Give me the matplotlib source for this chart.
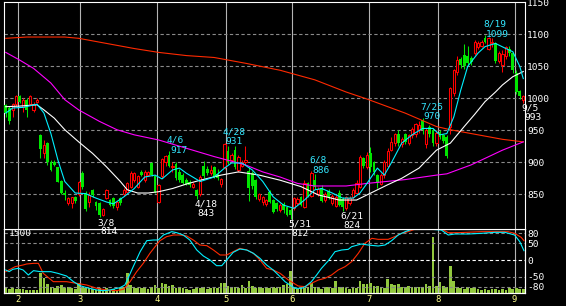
import numpy as np
import pandas as pd
import matplotlib
matplotlib.use("Agg")
import matplotlib.pyplot as plt

# ---------------- data ----------------
holidays = ["2022-02-11", "2022-02-23", "2022-03-21", "2022-04-29", "2022-05-03",
            "2022-05-04", "2022-05-05", "2022-07-18", "2022-08-11"]
dates = pd.bdate_range("2022-01-26", "2022-09-05", freq="C", holidays=holidays)

opens = [990, 985, 982, 992, 1003, 987, 998, 992, 982, 995,
         942, 914, 930, 901, 901, 892, 871, 852, 836, 837,
         846, 850, 884, 852, 838, 857, 838, 836, 818, 844,
         841, 844, 830, 844, 850, 854, 862, 872, 862, 885,
         872, 880, 899, 878, 838, 878, 900, 912, 892, 898,
         885, 880, 872, 870, 862, 857, 850, 895, 890, 884,
         893, 882, 866, 893, 918, 903, 919, 888, 895, 900,
         886, 884, 872, 843, 838, 835, 854, 841, 836, 826,
         835, 830, 826, 828, 837, 845, 830, 868, 848, 872,
         850, 860, 841, 855, 836, 832, 852, 842, 828, 836,
         846, 852, 862, 906, 893, 914, 900, 880, 866, 880,
         895, 920, 930, 945, 928, 944, 930, 942, 944, 950,
         966, 928, 955, 950, 930, 948, 942, 940, 956, 1008,
         1042, 1062, 1068, 1066, 1063, 1071, 1080, 1082, 1095, 1078,
         1087, 1086, 1058, 1052, 1066, 1078, 1071, 1040, 1011, 997]
highs = [992, 988, 993, 1005, 1006, 1000, 1001, 1006, 994, 1000,
         944, 935, 932, 903, 903, 893, 872, 856, 846, 846,
         848, 871, 886, 855, 853, 859, 840, 838, 829, 859,
         843, 846, 840, 846, 860, 869, 886, 885, 880, 888,
         888, 887, 901, 880, 866, 907, 912, 917, 900, 900,
         890, 884, 876, 872, 870, 859, 880, 902, 894, 896,
         895, 890, 876, 931, 925, 915, 925, 912, 903, 926,
         893, 886, 874, 852, 847, 843, 856, 843, 838, 836,
         838, 832, 828, 846, 846, 847, 872, 870, 886, 882,
         862, 864, 853, 858, 850, 849, 856, 845, 848, 848,
         860, 872, 911, 909, 916, 924, 902, 882, 884, 904,
         922, 940, 946, 950, 940, 946, 945, 955, 962, 964,
         970, 954, 958, 954, 950, 950, 944, 942, 1018, 1046,
         1066, 1065, 1085, 1082, 1066, 1091, 1090, 1092, 1099, 1096,
         1094, 1088, 1074, 1075, 1082, 1082, 1073, 1044, 1013, 1005]
lows = [971, 960, 971, 988, 993, 979, 971, 990, 979, 993,
        906, 906, 896, 886, 894, 869, 850, 841, 833, 828,
        836, 848, 858, 824, 830, 845, 826, 814, 816, 842,
        832, 828, 826, 834, 848, 852, 860, 870, 860, 878,
        870, 878, 878, 852, 836, 876, 895, 893, 885, 873,
        870, 866, 864, 862, 860, 843, 848, 876, 880, 880,
        875, 872, 862, 890, 898, 900, 890, 885, 892, 896,
        840, 858, 843, 840, 833, 832, 836, 821, 824, 823,
        820, 816, 812, 826, 834, 831, 828, 845, 846, 858,
        848, 838, 838, 842, 833, 830, 831, 824, 826, 834,
        843, 850, 860, 891, 890, 885, 880, 860, 864, 876,
        892, 918, 926, 926, 924, 928, 927, 938, 940, 946,
        945, 922, 940, 925, 926, 936, 930, 906, 945, 1004,
        1036, 1048, 1046, 1052, 1052, 1068, 1078, 1080, 1086, 1075,
        1080, 1055, 1055, 1042, 1062, 1066, 1040, 1007, 999, 993]
closes = [977, 964, 992, 1003, 995, 998, 982, 1003, 992, 998,
          921, 927, 901, 888, 896, 870, 852, 849, 844, 845,
          840, 869, 862, 827, 849, 849, 831, 817, 827, 857,
          833, 831, 838, 836, 857, 867, 883, 883, 878, 880,
          885, 885, 880, 854, 864, 905, 910, 895, 894, 875,
          872, 868, 866, 864, 866, 848, 877, 878, 884, 888,
          877, 876, 874, 928, 901, 912, 893, 909, 900, 903,
          860, 863, 846, 850, 845, 841, 838, 823, 827, 834,
          826, 818, 818, 844, 843, 834, 868, 848, 884, 862,
          858, 840, 850, 846, 848, 846, 834, 830, 845, 844,
          856, 868, 908, 894, 912, 892, 885, 868, 880, 900,
          918, 932, 944, 930, 937, 932, 942, 952, 960, 958,
          950, 950, 944, 930, 946, 940, 934, 910, 1016, 1044,
          1060, 1052, 1050, 1056, 1057, 1089, 1086, 1088, 1089, 1094,
          1089, 1058, 1071, 1070, 1080, 1071, 1044, 1010, 1003, 1003]
volume = [134, 100, 117, 100, 100, 100, 84, 75, 75, 84,
          494, 368, 226, 159, 134, 184, 201, 117, 159, 117,
          100, 243, 159, 117, 134, 100, 75, 117, 75, 117,
          75, 92, 75, 117, 159, 511, 201, 117, 117, 117,
          159, 100, 159, 201, 117, 243, 218, 175, 201, 117,
          159, 117, 100, 75, 100, 134, 117, 159, 100, 134,
          117, 134, 243, 243, 184, 134, 159, 134, 201, 117,
          301, 184, 134, 159, 134, 134, 117, 159, 117, 159,
          201, 218, 561, 159, 100, 117, 117, 159, 243, 159,
          117, 100, 159, 159, 117, 301, 159, 159, 117, 100,
          159, 117, 301, 226, 218, 243, 184, 184, 159, 117,
          352, 226, 201, 218, 159, 159, 184, 159, 159, 159,
          159, 218, 184, 1415, 184, 285, 184, 159, 678, 301,
          159, 117, 100, 159, 117, 117, 100, 75, 100, 75,
          92, 100, 75, 100, 75, 117, 100, 117, 100, 92]

# moving averages (day index, price)
ma_short_x = [0, 2, 5, 9, 11, 13, 15, 17, 20, 23, 26, 29, 31, 34, 37, 40, 43, 45, 48, 50,
              52, 56, 60, 63, 65, 68, 71, 74, 77, 80, 83, 86, 89, 91, 94, 97, 100, 102, 104,
              107, 109, 111, 114, 117, 120, 123, 125, 127, 129, 131, 133, 136, 138, 141, 144,
              146, 148, 149]
ma_short_y = [977, 985, 986, 991, 977, 945, 904, 870, 852, 851, 844, 838, 835, 846, 859, 877,
              880, 874, 888, 891, 883, 870, 877, 891, 899, 899, 888, 870, 846, 833, 828, 841,
              857, 859, 852, 844, 844, 852, 867, 891, 880, 899, 930, 943, 953, 953, 943, 945,
              971, 1013, 1050, 1071, 1081, 1086, 1078, 1073, 1050, 1031]
ma_mid_x = [0, 4, 9, 11, 14, 17, 21, 25, 29, 33, 35, 38, 41, 44, 48, 52, 56, 62, 67, 73,
            79, 85, 90, 96, 101, 104, 110, 114, 119, 124, 128, 132, 135, 138, 141, 143,
            146, 149]
ma_mid_y = [987, 988, 990, 982, 969, 951, 932, 914, 893, 870, 857, 852, 852, 854, 859, 866,
            872, 880, 885, 880, 872, 862, 849, 841, 841, 849, 865, 875, 891, 919, 930, 956,
            975, 995, 1010, 1021, 1034, 1042]
ma_long_x = [0, 4, 8, 13, 17, 21, 27, 32, 37, 44, 52, 60, 69, 74, 79, 84, 89, 98, 104,
             115, 124, 127, 134, 143, 149]
ma_long_y = [1072, 1060, 1047, 1024, 998, 982, 964, 951, 943, 935, 922, 909, 896, 885, 877,
             867, 863, 863, 867, 873, 880, 882, 896, 919, 932]
ma_xlong_x = [0, 6, 17, 21, 27, 37, 44, 52, 60, 69, 79, 89, 98, 104, 115, 124, 128, 134,
              143, 149]
ma_xlong_y = [1094, 1096, 1096, 1094, 1088, 1078, 1072, 1067, 1064, 1055, 1044, 1029, 1010,
              999, 977, 956, 951, 945, 936, 932]

# oscillators (lower panel)
osc_fast_x = [0, 1, 2, 3.6, 5, 6.5, 8, 10, 13, 15, 17.5, 19.5, 21.4, 23.3, 26.2, 28, 30,
              32.9, 34.3, 35.2, 36.7, 38.7, 40.6, 42.5, 43.9, 45.4, 47.8, 49.2, 51.1, 53,
              55, 56.9, 58.8, 60.7, 62.2, 63.6, 65.5, 67.4, 69.4, 71.3, 73.2, 75.1, 77, 79,
              80.4, 81.8, 83.3, 85.2, 86.2, 88, 89.5, 90.9, 92.9, 94.8, 96.7, 98.6, 99.6,
              102.4, 104.3, 107.2, 109.2, 111.1, 113, 115, 116.8, 119.7, 122.6, 125.4,
              127.4, 129.3, 133.1, 137, 140.8, 143.7, 146.5, 148, 149.2]
osc_fast_y = [-30, -35, -28, -25, -30, -45, -32, -35, -35, -40, -48, -65, -77, -83, -90,
              -92, -90, -83, -75, -55, -20, 25, 58, 60, 60, 75, 85, 82, 75, 60, 30, 12, 0,
              -17, -17, 0, 23, 33, 30, 20, 5, -15, -30, -50, -65, -75, -85, -85, -80, -65,
              -45, -25, -2, 25, 30, 32, 40, 48, 45, 42, 45, 58, 75, 85, 92, 92, 92, 90, 75,
              78, 78, 80, 83, 83, 75, 55, 28]
osc_slow_x = [0, 2.7, 5, 6, 8, 9.4, 10.8, 13.7, 17.5, 20.4, 23.3, 26.2, 29.1, 31.9, 33.9,
              35.8, 37.7, 39.6, 41.5, 43, 44.4, 46.3, 48.3, 50.2, 52.1, 54, 55.9, 57.9,
              59.8, 61.7, 63.6, 65.5, 67.4, 69.4, 71.3, 73.2, 75.1, 77, 79, 81.4, 84.2,
              86.2, 88, 90, 91.9, 93.8, 95.7, 97.7, 99.6, 101.5, 103.4, 105.4, 107.2,
              110.1, 112, 113.9, 115.8, 117.7, 119.7, 122.6, 125.4, 127.4, 130.2, 137,
              144.6, 146.5, 148.4, 149.2]
osc_slow_y = [-35, -20, -15, -12, -10, -10, -40, -65, -65, -70, -75, -85, -90, -92, -88,
              -65, -35, -10, 20, 40, 58, 70, 75, 75, 72, 60, 45, 43, 30, 15, 15, 25, 35,
              30, 20, 0, -25, -30, -40, -60, -78, -80, -70, -60, -55, -45, -30, -20, -5,
              20, 50, 65, 62, 62, 70, 80, 85, 92, 93, 93, 93, 82, 82, 85, 85, 80, 68, 58]

high_marks = [("2022-04-06", 917), ("2022-04-28", 931), ("2022-06-08", 886),
              ("2022-07-25", 970), ("2022-08-19", 1099)]
low_marks = [("2022-03-08", 814), ("2022-04-18", 843), ("2022-05-31", 812),
             ("2022-06-21", 824), ("2022-09-05", 993)]

price_ticks = [850, 900, 950, 1000, 1050, 1100, 1150]
price_grid = [850, 900, 950, 1000, 1050, 1100]
osc_ticks = [80, 50, 0, -50, -80]
volume_label = "1500"

# ---------------- style ----------------
plt.rcParams["font.family"] = ["DejaVu Sans Mono"]
FS = 6.8
RED = "#ff0000"
GREEN = "#00e600"
CYAN = "#00f0ff"
TXT_CYAN = "#33e6ff"
MAGENTA = "#ff00ff"
ORANGE_RED = "#ff2a00"
GRID = "#8a8a8a"
VLINE = "#b4b4b4"
VOL = "#92c83e"
MONTH_COL = "#ffff8c"

W, H = 566, 306
fig = plt.figure(figsize=(W / 100, H / 100), dpi=100, facecolor="black")
ax = fig.add_axes([4 / W, 77 / H, 521 / W, 227 / H], facecolor="black")
axv = fig.add_axes([4 / W, 13 / H, 521 / W, 64 / H], facecolor="black")
axo = axv.twinx()
ax.set_zorder(3)

n = len(dates)
x = np.arange(n)
o, h, l, c = (np.array(a, dtype=float) for a in (opens, highs, lows, closes))
up = c >= o
dn = ~up

for a in (ax, axv):
    a.set_xlim(-0.5, n - 0.5)
axo.set_xlim(-0.5, n - 0.5)
ax.set_ylim(795.7, 1150.8)
axo.set_ylim(-99, 93)
axv.set_ylim(0, 1608)

# month lines
month_idx = [i for i in range(1, n) if dates[i].month != dates[i - 1].month]
month_lbl = [str(dates[i].month) for i in month_idx]
for i in month_idx:
    ax.axvline(i - 0.5, color=VLINE, lw=0.8, zorder=1)
    axv.axvline(i - 0.5, color=VLINE, lw=0.8, zorder=1)

for v in price_grid:
    ax.axhline(v, color=GRID, lw=0.8, ls=(0, (3, 2.2)), zorder=1)

# candles
ax.vlines(x[up], l[up], o[up], color=RED, lw=0.75, zorder=2)
ax.vlines(x[up], c[up], h[up], color=RED, lw=0.75, zorder=2)
ax.vlines(x[dn], l[dn], h[dn], color=GREEN, lw=0.75, zorder=2)
ax.bar(x[up], np.maximum(c[up] - o[up], 0.6), bottom=o[up], width=0.64,
       facecolor="black", edgecolor=RED, lw=0.75, zorder=3)
ax.bar(x[dn], np.maximum(o[dn] - c[dn], 0.6), bottom=c[dn], width=0.8,
       color=GREEN, lw=0, zorder=3)

# moving averages
ax.plot(ma_xlong_x, ma_xlong_y, color=ORANGE_RED, lw=0.8, zorder=4)
ax.plot(ma_long_x, ma_long_y, color=MAGENTA, lw=0.8, zorder=4)
ax.plot(ma_mid_x, ma_mid_y, color="white", lw=0.8, zorder=4)
ax.plot(ma_short_x, ma_short_y, color=CYAN, lw=0.8, zorder=4)

# annotations
pos = {d.strftime("%Y-%m-%d"): i for i, d in enumerate(dates)}
for d, val in high_marks:
    i = pos[d]
    dt = pd.Timestamp(d)
    ax.annotate(f"{dt.month}/{dt.day}", xy=(i, val), xytext=(-2, 8.5),
                textcoords="offset pixels", color=TXT_CYAN, fontsize=FS,
                ha="left", va="baseline", annotation_clip=False, zorder=10)
    ax.annotate(f"{val}", xy=(i, val), xytext=(1, -1.5),
                textcoords="offset pixels", color=TXT_CYAN, fontsize=FS,
                ha="left", va="baseline", annotation_clip=False, zorder=10)
for d, val in low_marks:
    i = pos[d]
    dt = pd.Timestamp(d)
    ax.annotate(f"{dt.month}/{dt.day}", xy=(i, val), xytext=(-2, -8),
                textcoords="offset pixels", color="white", fontsize=FS,
                ha="left", va="baseline", annotation_clip=False, zorder=10)
    ax.annotate(f"{val}", xy=(i, val), xytext=(1, -17),
                textcoords="offset pixels", color="white", fontsize=FS,
                ha="left", va="baseline", annotation_clip=False, zorder=10)

# price axis
ax.yaxis.tick_right()
ax.set_yticks(price_ticks)
ax.set_yticklabels([str(t) for t in price_ticks])
ax.tick_params(axis="y", length=0, pad=1.5, labelcolor="white", labelsize=FS)
ax.set_xticks([])

# lower panel
axv.bar(x, volume, width=0.78, color=VOL, lw=0, zorder=2)
axv.set_yticks([])
axv.set_xticks([i - 0.5 for i in month_idx])
axv.set_xticklabels(month_lbl)
axv.tick_params(axis="x", length=0, pad=1.8, labelcolor=MONTH_COL, labelsize=FS - 0.4)

for v in osc_ticks:
    axo.axhline(v, color="white" if v == 0 else GRID, lw=0.8, ls=(0, (3, 2.2)), zorder=1)
axo.plot(osc_slow_x, osc_slow_y, color=ORANGE_RED, lw=0.8, zorder=3)
axo.plot(osc_fast_x, osc_fast_y, color=CYAN, lw=0.8, zorder=3)
axo.set_yticks(osc_ticks)
axo.set_yticklabels([str(t) for t in osc_ticks])
axo.tick_params(axis="y", length=0, pad=1.5, labelcolor="white", labelsize=FS)

fig.text(9 / W, 1 - 233 / H, volume_label, color="white", fontsize=FS,
         ha="left", va="center", zorder=5)

for a in (ax, axv, axo):
    for s in a.spines.values():
        s.set_color("white")
        s.set_linewidth(0.8)

fig.savefig("out.png", dpi=100, facecolor="black")
